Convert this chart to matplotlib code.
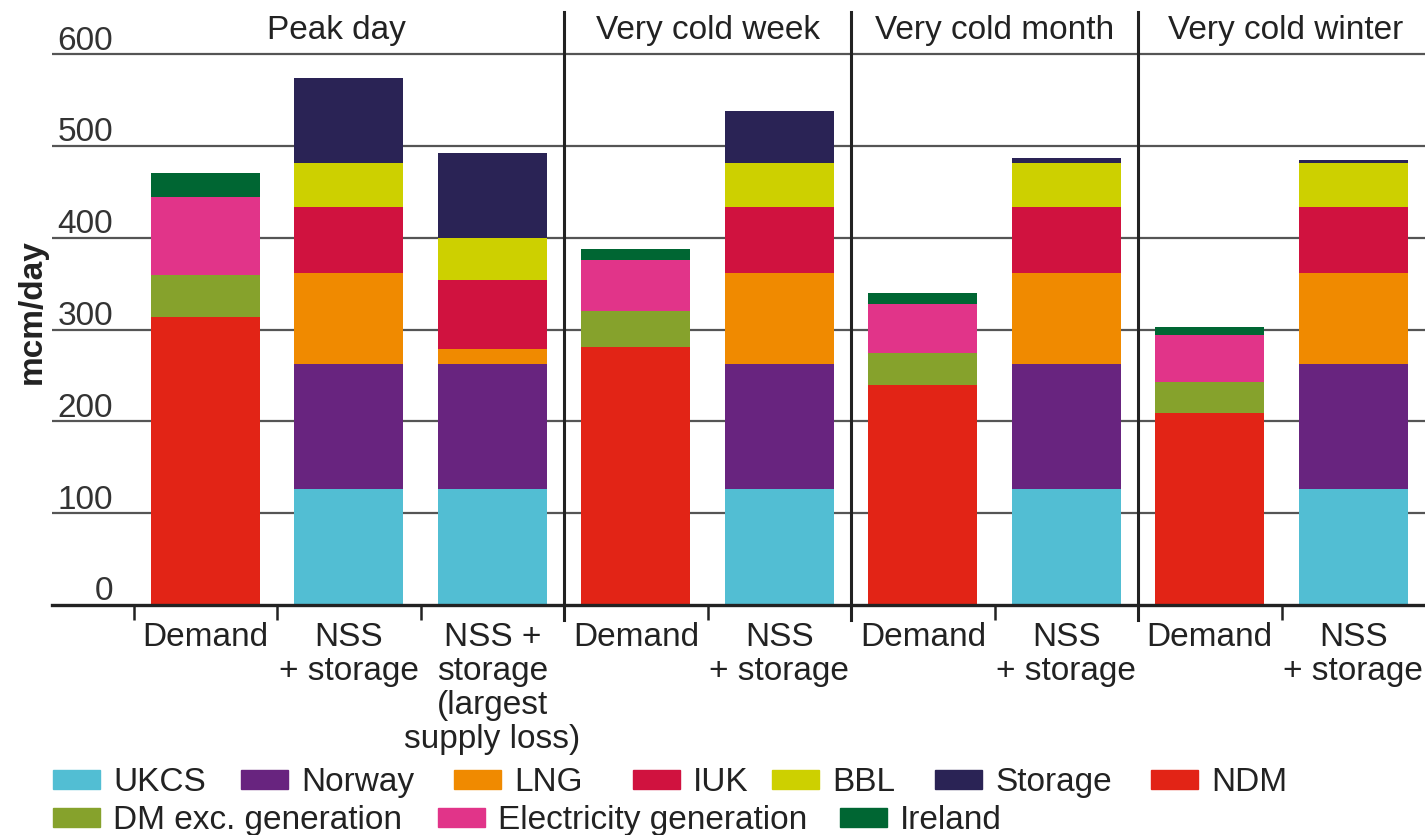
import matplotlib.pyplot as plt
from matplotlib.patches import Rectangle
import numpy as np

plt.rcParams['font.family'] = ['Liberation Sans', 'DejaVu Sans']

# bars, left to right
categories = ['Demand', 'NSS\n+ storage', 'NSS +\nstorage\n(largest\nsupply loss)',
              'Demand', 'NSS\n+ storage',
              'Demand', 'NSS\n+ storage',
              'Demand', 'NSS\n+ storage']
groups = ['Peak day', 'Very cold week', 'Very cold month', 'Very cold winter']

# stacked series, mcm/day
ukcs = [0, 126, 126, 0, 126, 0, 126, 0, 126]
norway = [0, 136, 136, 0, 136, 0, 136, 0, 136]
lng = [0, 100, 17, 0, 100, 0, 100, 0, 100]
iuk = [0, 72, 75, 0, 72, 0, 72, 0, 72]
bbl = [0, 48, 46, 0, 48, 0, 48, 0, 48]
storage = [0, 92, 92, 0, 56, 0, 5, 0, 3]
ndm = [314, 0, 0, 281, 0, 240, 0, 209, 0]
dm_exc_gen = [46, 0, 0, 39, 0, 34, 0, 34, 0]
elec_gen = [85, 0, 0, 56, 0, 54, 0, 51, 0]
ireland = [26, 0, 0, 12, 0, 12, 0, 9, 0]

series = [
    ('UKCS', ukcs, '#52BED3'),
    ('Norway', norway, '#68247F'),
    ('LNG', lng, '#F08A00'),
    ('IUK', iuk, '#D0123F'),
    ('BBL', bbl, '#CDD000'),
    ('Storage', storage, '#2A2355'),
    ('NDM', ndm, '#E22416'),
    ('DM exc. generation', dm_exc_gen, '#86A22C'),
    ('Electricity generation', elec_gen, '#E13489'),
    ('Ireland', ireland, '#006633'),
]

W, H = 1425, 835
fig = plt.figure(figsize=(W / 100, H / 100), dpi=100)
ax = fig.add_axes([52 / W, (H - 605) / H, (W - 52) / W, (605 - 12) / H])

x = np.arange(len(categories))
bottom = np.zeros(len(categories))
for name, vals, col in series:
    vals = np.array(vals, dtype=float)
    ax.bar(x, vals, 0.76, bottom=bottom, color=col, linewidth=0)
    bottom += vals

ax.set_xlim(-1.07, 8.5)
ax.set_ylim(0, 646)

# grid and y labels
for v in range(100, 700, 100):
    ax.axhline(v, color='#555555', lw=1.6, zorder=0)
for v in range(0, 700, 100):
    ax.text(-0.645, v + 5, str(v), ha='right', va='baseline', fontsize=24, color='#333333')
ax.set_yticks([])
fig.text(32 / W, 1 - 312 / H, 'mcm/day', rotation=90, ha='center', va='center',
         fontsize=24, fontweight='bold', color='#222222')

for s in ['top', 'right', 'left']:
    ax.spines[s].set_visible(False)
ax.spines['bottom'].set_linewidth(2.4)
ax.spines['bottom'].set_color('#222222')

ax.set_xticks(np.arange(-0.5, 8, 1.0))
ax.set_xticklabels([])
ax.tick_params(axis='x', direction='out', length=11, width=1.8, color='#222222')

# separators between groups
for sx in [2.5, 4.5, 6.5]:
    ax.axvline(sx, ymin=-0.0253, ymax=1, color='#222222', lw=2.2, clip_on=False)

for gx, g in zip([0.91, 3.5, 5.5, 7.53], groups):
    ax.text(gx, 617, g, ha='center', va='baseline', fontsize=24, color='#222222')

for xi, c in zip(x, categories):
    ax.text(xi, -17 / 593, c, transform=ax.get_xaxis_transform(), ha='center', va='top',
            fontsize=24, color='#222222', linespacing=1.13)

# legend, two rows laid out like the original
legend_pos = [(53, 770), (241, 770), (454, 770), (633, 770), (772, 770), (935, 770), (1151, 770),
              (53, 808), (438, 808), (840, 808)]
for (name, vals, col), (px, py) in zip(series, legend_pos):
    fig.patches.append(Rectangle((px / W, 1 - (py + 19) / H), 47 / W, 19 / H,
                                 transform=fig.transFigure, color=col, figure=fig))
    fig.text((px + 60) / W, 1 - (py + 21) / H, name, ha='left', va='baseline',
             fontsize=24, color='#222222')

fig.savefig('out.png', dpi=100)
